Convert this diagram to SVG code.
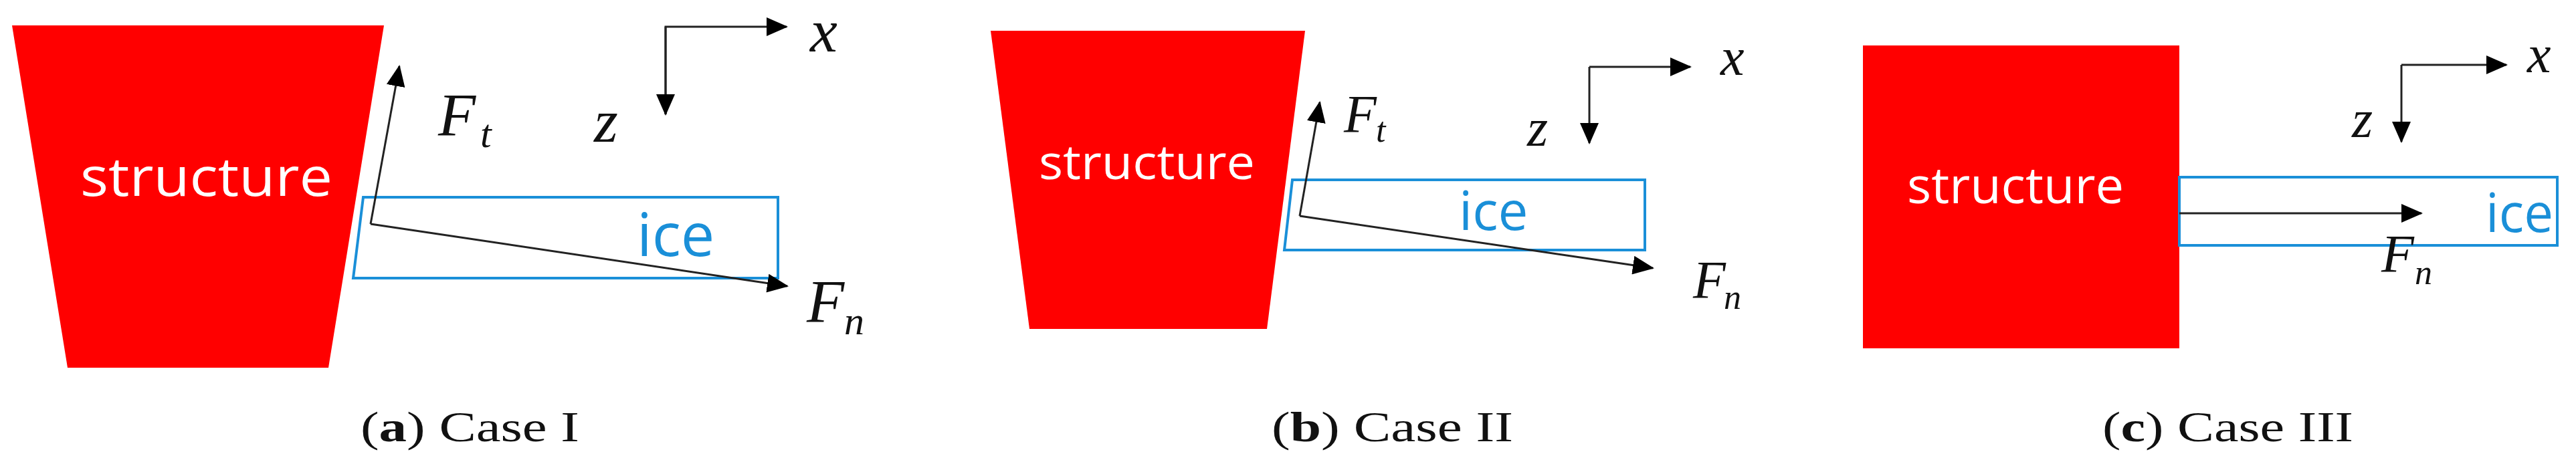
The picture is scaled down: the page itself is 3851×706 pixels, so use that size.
<svg xmlns="http://www.w3.org/2000/svg" width="3851" height="706" viewBox="0 0 3851 706">
<style>
.st{fill:#ff0000}
.stt{fill:#fff;font-family:"Open Sans","DejaVu Sans",sans-serif}
.ice{fill:none;stroke:#1a8fd8;stroke-width:4}
.icet{fill:#1a8fd8;font-family:"Open Sans","DejaVu Sans",sans-serif}
.ln{stroke:#222;stroke-width:3;fill:none;marker-end:url(#ah)}
.it{font-family:"Liberation Serif",serif;font-style:italic;fill:#111}
.cap{font-family:"Liberation Serif",serif;fill:#111;font-size:64px}
</style>
<defs>
<marker id="ah" markerUnits="userSpaceOnUse" markerWidth="34" markerHeight="28" refX="30" refY="14" orient="auto">
<path d="M0,0 L32,14 L0,28 Z" fill="#000"/>
</marker>
</defs>
<g id="caseA">
<polygon class="st" points="18,38 574,38 491,550 101,550"/>
<text class="stt" x="120" y="293" font-size="80" textLength="377" lengthAdjust="spacingAndGlyphs">structure</text>
<polygon class="ice" points="543,295 1163,295 1163,416 528,416"/>
<text class="icet" x="952" y="383" font-size="90">ice</text>
<text class="it" x="655" y="203" font-size="92">F</text><text class="it" x="718" y="220" font-size="60">t</text>
<text class="it" x="888" y="212" font-size="92">z</text>
<text class="it" x="1211" y="77" font-size="92">x</text>
<text class="it" x="1206" y="482" font-size="92">F</text><text class="it" x="1262" y="500" font-size="60">n</text>
<text class="cap" x="539" y="660" textLength="327" lengthAdjust="spacingAndGlyphs">(<tspan font-weight="bold">a</tspan>) Case I</text>
</g>
<g id="caseB">
<polygon class="st" points="1481,46 1951,46 1894,492 1539,492"/>
<text class="stt" x="1553" y="268" font-size="72" textLength="323" lengthAdjust="spacingAndGlyphs">structure</text>
<polygon class="ice" points="1932,269 2459,269 2459,374 1920,374"/>
<text class="icet" x="2181" y="344" font-size="80">ice</text>
<text class="it" x="2009" y="198" font-size="80">F</text><text class="it" x="2057" y="212" font-size="52">t</text>
<text class="it" x="2283" y="218" font-size="80">z</text>
<text class="it" x="2572" y="112" font-size="80">x</text>
<text class="it" x="2531" y="446" font-size="80">F</text><text class="it" x="2577" y="462" font-size="52">n</text>
<text class="cap" x="1901" y="660" textLength="361" lengthAdjust="spacingAndGlyphs">(<tspan font-weight="bold">b</tspan>) Case II</text>
</g>
<g id="caseC">
<rect class="st" x="2785" y="68" width="473" height="453"/>
<text class="stt" x="2851" y="304" font-size="75" textLength="324" lengthAdjust="spacingAndGlyphs">structure</text>
<rect class="ice" x="3258" y="265" width="565" height="102"/>
<text class="icet" x="3716" y="347" font-size="80" textLength="101" lengthAdjust="spacingAndGlyphs">ice</text>
<text class="it" x="3560" y="407" font-size="80">F</text><text class="it" x="3610" y="425" font-size="52">n</text>
<text class="it" x="3516" y="205" font-size="80">z</text>
<text class="it" x="3778" y="108" font-size="80">x</text>
<text class="cap" x="3143" y="660" textLength="375" lengthAdjust="spacingAndGlyphs">(<tspan font-weight="bold">c</tspan>) Case III</text>
</g>
<g id="connectors">
<path class="ln" d="M554,335 L597,99"/>
<path class="ln" d="M554,335 L1177,428"/>
<path class="ln" d="M995,171 L995,40 L1176,40" marker-end="url(#ah)"/>
<path class="ln" d="M995,40 L995,171"/>
<path class="ln" d="M1943,323 L1973,153"/>
<path class="ln" d="M1943,323 L2471,401"/>
<path class="ln" d="M2376,100 L2527,100"/>
<path class="ln" d="M2376,100 L2376,214"/>
<path class="ln" d="M3258,319 L3620,319"/>
<path class="ln" d="M3590,97 L3747,97"/>
<path class="ln" d="M3590,97 L3590,212"/>
</g>
</svg>
